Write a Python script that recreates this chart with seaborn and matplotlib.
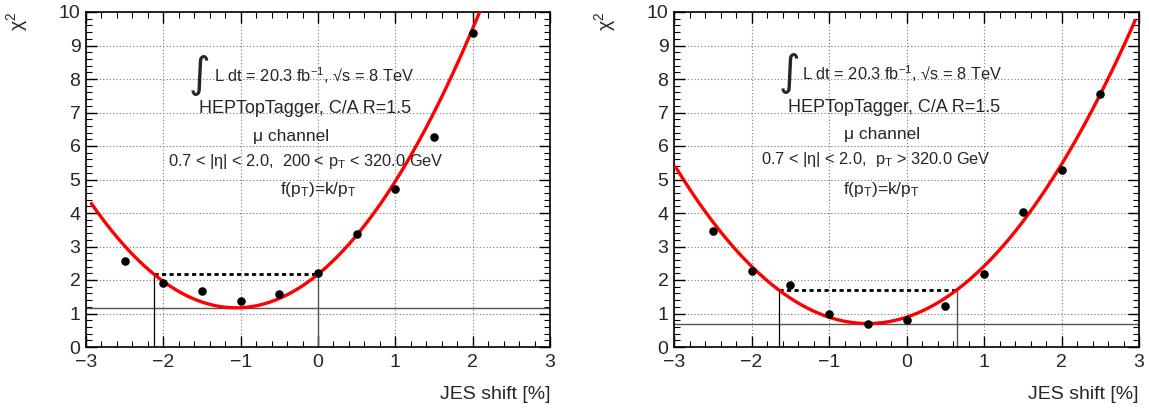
import numpy as np
import pandas as pd
import matplotlib
matplotlib.use("Agg")
import matplotlib.pyplot as plt
from matplotlib.ticker import MultipleLocator
import seaborn as sns

# ---------------- data ----------------
jes_left = [-2.5, -2.0, -1.5, -1.0, -0.5, 0.0, 0.5, 1.0, 1.5, 2.0]
chi2_left = [2.56, 1.90, 1.67, 1.37, 1.57, 2.22, 3.36, 4.73, 6.28, 9.38]

jes_right = [-2.5, -2.0, -1.5, -1.0, -0.5, 0.0, 0.5, 1.0, 1.5, 2.0, 2.5]
chi2_right = [3.45, 2.27, 1.84, 0.99, 0.70, 0.82, 1.22, 2.17, 4.04, 5.27, 7.54]

# parabolic fit parameters: [x_min, chi2_min, curvature]
fit_left = [-1.06, 1.17, 0.89]
fit_right = [-0.50, 0.70, 0.76]
# drawn range of the fit curves
range_left = [-2.93, 2.12]
range_right = [-2.98, 2.95]

xticks = [-3, -2, -1, 0, 1, 2, 3]
yticks = [0, 1, 2, 3, 4, 5, 6, 7, 8, 9, 10]

text_common = ["HEPTopTagger, C/A R=1.5", "\u03bc channel"]
kin_left = "0.7 < |\u03b7| < 2.0,  200 < p$_{\\mathrm{T}}$ < 320.0 GeV"
kin_right = "0.7 < |\u03b7| < 2.0,  p$_{\\mathrm{T}}$ > 320.0 GeV"
func_text = "f(p$_{\\mathrm{T}}$)=k/p$_{\\mathrm{T}}$"
lumi_text = "L dt = 20.3 fb$^{\\mathregular{-1}}$, \u221as = 8 TeV"

# ---------------- style ----------------
sns.set_theme(style="white")
plt.rcParams["font.family"] = ["Liberation Sans", "DejaVu Sans"]
plt.rcParams["mathtext.fontset"] = "custom"
plt.rcParams["mathtext.rm"] = "Liberation Sans"
plt.rcParams["mathtext.it"] = "Liberation Sans:italic"
plt.rcParams["mathtext.bf"] = "Liberation Sans:bold"

fig = plt.figure(figsize=(11.49, 4.12), dpi=100)
W, H = 1149, 412
ax_l = fig.add_axes([86 / W, 1 - 347 / H, 464 / W, 335 / H])
ax_r = fig.add_axes([674 / W, 1 - 347 / H, 465 / W, 335 / H])


def draw(ax, xs, ys, fit, rng, kin, pos):
    x0, cmin, a = fit
    xc = np.linspace(rng[0], rng[1], 300)
    curve = pd.DataFrame({"x": xc, "y": a * (xc - x0) ** 2 + cmin})
    pts = pd.DataFrame({"x": xs, "y": ys})

    ax.set_xlim(-3, 3)
    ax.set_ylim(0, 10)
    ax.grid(True, which="major", linestyle=(0, (1, 2)), color="#777777", linewidth=0.8)

    # horizontal minimum line
    ax.axhline(cmin, color="#555555", linewidth=1.0, zorder=2)
    # crossing points at chi2_min + 1
    half = np.sqrt(1.0 / a)
    xa, xb = x0 - half, x0 + half
    ax.vlines([xa], 0, cmin + 1, color="black", linewidth=0.9, zorder=2)
    ax.vlines([xb], 0, cmin + 1, color="#555555", linewidth=1.0, zorder=2)
    ax.hlines(cmin + 1, xa, xb, color="black", linewidth=2.0,
              linestyles=(0, (1.5, 1.2)), zorder=2)

    sns.lineplot(data=curve, x="x", y="y", ax=ax, color="#ff0000",
                 linewidth=2.4, zorder=3, legend=False)
    sns.scatterplot(data=pts, x="x", y="y", ax=ax, color="black", s=38,
                    edgecolor="black", linewidth=0, zorder=4, legend=False)

    ax.set_xticks(xticks)
    ax.set_yticks(yticks)
    ax.set_xticklabels([str(t).replace("-", "\u2212") for t in xticks])
    ax.xaxis.set_minor_locator(MultipleLocator(0.2))
    ax.yaxis.set_minor_locator(MultipleLocator(0.2))
    ax.tick_params(which="both", direction="in", top=True, right=True,
                   bottom=True, left=True, color="black")
    ax.tick_params(which="major", length=8, width=1.0, labelsize=14, pad=5)
    ax.tick_params(axis="y", which="major", pad=4)
    ax.tick_params(which="minor", length=4, width=0.8)
    for s in ax.spines.values():
        s.set_color("black")
        s.set_linewidth(1.2)

    ax.set_xlabel("JES shift [%]", fontsize=14, loc="right")
    ax.xaxis.set_label_coords(1.0, -0.115)
    ax.set_ylabel("\u03c7$^{\\mathregular{2}}$", fontsize=14, loc="top")
    ax.yaxis.set_label_coords(-0.12, 1.0)

    # annotation texts
    lx, ly, ix = pos["lumi"]
    ax.text(ix, ly + 0.003, "\u222b", transform=ax.transAxes, fontsize=30,
            ha="center", va="center", family=["DejaVu Sans"])
    ax.text(lx, ly, lumi_text, transform=ax.transAxes, fontsize=11.8,
            ha="left", va="center")
    ax.text(pos["tag"][0], pos["tag"][1], text_common[0], transform=ax.transAxes,
            fontsize=13, ha="center", va="center")
    ax.text(pos["mu"][0], pos["mu"][1], text_common[1], transform=ax.transAxes,
            fontsize=12.5, ha="center", va="center")
    ax.text(pos["kin"][0], pos["kin"][1], kin, transform=ax.transAxes,
            fontsize=11.8, ha="center", va="center")
    ax.text(pos["fn"][0], pos["fn"][1], func_text, transform=ax.transAxes,
            fontsize=12.5, ha="center", va="center")


pos_left = {"lumi": (0.276, 0.81, 0.245), "tag": (0.472, 0.712), "mu": (0.443, 0.628),
            "kin": (0.474, 0.555), "fn": (0.50, 0.47)}
pos_right = {"lumi": (0.276, 0.815, 0.248), "tag": (0.473, 0.714), "mu": (0.448, 0.635),
             "kin": (0.435, 0.56), "fn": (0.446, 0.47)}

draw(ax_l, jes_left, chi2_left, fit_left, range_left, kin_left, pos_left)
draw(ax_r, jes_right, chi2_right, fit_right, range_right, kin_right, pos_right)

fig.savefig("out.png", dpi=100)
